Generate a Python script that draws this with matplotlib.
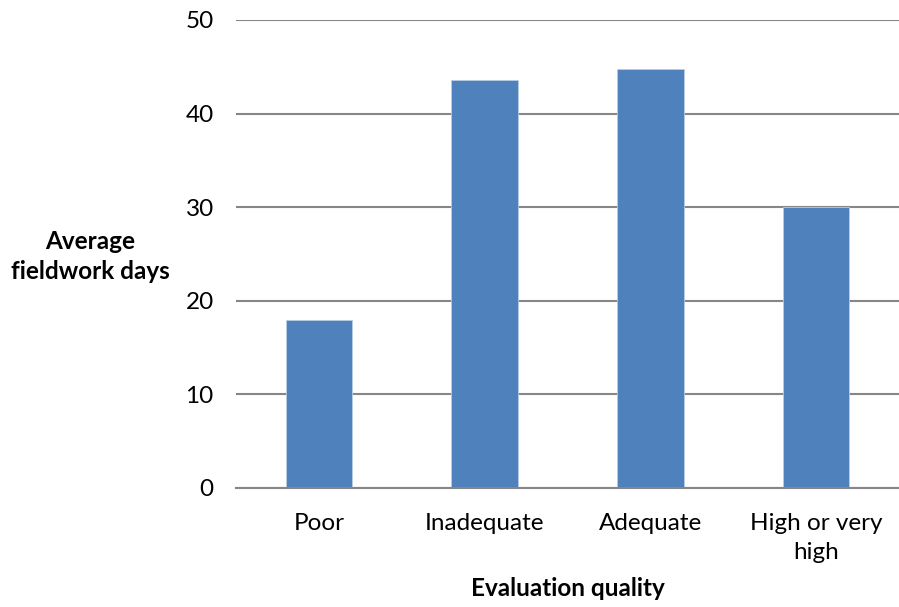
import matplotlib.pyplot as plt

categories = ['Poor', 'Inadequate', 'Adequate', 'High or very\nhigh']
avg_days = [18.0, 43.6, 44.8, 30.0]
y_ticks = [0, 10, 20, 30, 40, 50]

plt.rcParams['font.family'] = ['Lato', 'DejaVu Sans']

fig = plt.figure(figsize=(8.99, 6.07), dpi=100)
ax = fig.add_axes([236 / 899, 119 / 607, 663 / 899, 468 / 607])

x = range(len(categories))
ax.bar(x, avg_days, width=0.4, color='#4F81BD', edgecolor='#B9CDE5', linewidth=0.6, zorder=3)

ax.set_xlim(-0.5, len(categories) - 0.5)
ax.set_ylim(0, 50)
ax.set_yticks(y_ticks)
ax.set_xticks(list(x))
ax.set_xticklabels(categories, fontsize=17.5, linespacing=1.45)

ax.grid(axis='y', color='#868686', linewidth=1.5, zorder=0)
for side in ['left', 'right', 'top']:
    ax.spines[side].set_visible(False)
ax.spines['bottom'].set_color('#868686')
ax.spines['bottom'].set_linewidth(1.5)
ax.spines['bottom'].set_zorder(4)

ax.tick_params(axis='y', length=0, pad=16, labelsize=17.5)
ax.tick_params(axis='x', direction='in', length=6, color='#A0A0A0', pad=18)

ax.set_xlabel('Evaluation quality', fontsize=17.5, fontweight='bold', labelpad=10)
ax.set_ylabel('Average\nfieldwork days', fontsize=17.5, fontweight='bold',
              rotation=0, ha='center', va='center', linespacing=1.35)
ax.yaxis.set_label_coords(-0.22, 0.494)

fig.savefig('out.png', dpi=100)
